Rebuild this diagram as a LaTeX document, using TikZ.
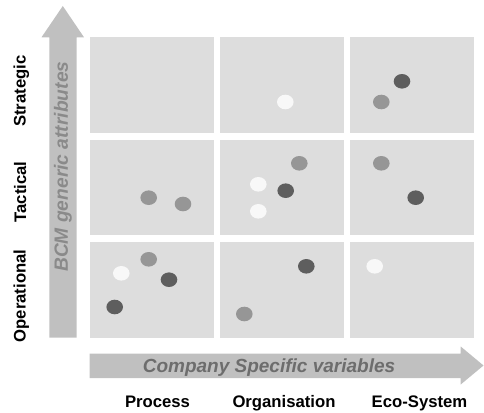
\documentclass[tikz,border=0pt]{standalone}
\usepackage{fontspec}
\setmainfont{Liberation Sans}
\usetikzlibrary{shapes.geometric}
\definecolor{cellbg}{HTML}{DDDDDD}
\definecolor{arrowgray}{HTML}{C0C0C0}
\definecolor{dotdark}{HTML}{5E5E5E}
\definecolor{dotmid}{HTML}{969696}
\definecolor{dotlight}{HTML}{F8F8F8}
\definecolor{htext}{HTML}{6D6D6D}
\definecolor{vtext}{HTML}{8A8A8A}
\tikzset{
  cell/.style={fill=cellbg, draw=none},
  bigarrow/.style={fill=arrowgray, draw=none},
  dot/.style={ellipse, minimum width=16.6pt, minimum height=14.6pt, inner sep=0pt, draw=none},
  dk/.style={dot, fill=dotdark},
  md/.style={dot, fill=dotmid},
  lt/.style={dot, fill=dotlight},
  rowlabel/.style={rotate=90, anchor=base, inner sep=0pt, font=\fontsize{16.7}{18}\selectfont\bfseries},
  collabel/.style={anchor=base, inner sep=0pt, font=\fontsize{16.7}{18}\selectfont\bfseries},
}
\begin{document}
\begin{tikzpicture}[x=1pt,y=-1pt]
\useasboundingbox (0,0) rectangle (484,412);
% grid cells
\foreach \cx in {90,220,350}{
  \fill[cell] (\cx,37) rectangle ++(124,95.7);
  \fill[cell] (\cx,140) rectangle ++(124,95.3);
  \fill[cell] (\cx,242) rectangle ++(124,95.7);
}
% vertical arrow
\fill[bigarrow] (49.3,337.7) -- (49.3,37.3) -- (41.5,37.3) -- (62.8,6) -- (84,37.3) -- (76.7,37.3) -- (76.7,337.7) -- cycle;
\node[rotate=90, anchor=base, inner sep=0pt, text=vtext, font=\fontsize{19.2}{21}\selectfont\bfseries\itshape] (vlab) at (67.8,166.7) {BCM generic attributes};
% horizontal arrow
\fill[bigarrow] (89.5,353.5) -- (460.7,353.5) -- (460.7,346.5) -- (483.5,365.5) -- (460.7,384.5) -- (460.7,378) -- (89.5,378) -- cycle;
\node[anchor=base, inner sep=0pt, text=htext, font=\fontsize{19}{21}\selectfont\bfseries\itshape] (hlab) at (269,372) {Company Specific variables};
% row labels
\node[rowlabel] (strat) at (25.5,91) {Strategic};
\node[rowlabel] (tact) at (26,192) {Tactical};
\node[rowlabel] (oper) at (25.5,296) {Operational};
% column labels
\node[collabel] (proc) at (157.5,407) {Process};
\node[collabel] (org) at (284,407) {Organisation};
\node[collabel] (eco) at (419.5,407) {Eco-System};
% dots
\node[lt] (d1) at (285.3,102) {};
\node[dk] (d2) at (402,81.3) {};
\node[md] (d3) at (381.3,102) {};
\node[md] (d4) at (299.3,163.3) {};
\node[lt] (d5) at (258.3,184.3) {};
\node[dk] (d6) at (285.7,190.7) {};
\node[lt] (d7) at (258.3,211.3) {};
\node[md] (d8) at (381.3,163.3) {};
\node[dk] (d9) at (415.7,197.7) {};
\node[md] (d10) at (148.7,197.7) {};
\node[md] (d11) at (183,204) {};
\node[md] (d12) at (148.7,259.3) {};
\node[lt] (d13) at (121.3,273.3) {};
\node[dk] (d14) at (169,279.7) {};
\node[dk] (d15) at (114.7,307) {};
\node[dk] (d16) at (306.3,266.3) {};
\node[md] (d17) at (244.3,314) {};
\node[lt] (d18) at (374.7,266.3) {};
\end{tikzpicture}
\end{document}
